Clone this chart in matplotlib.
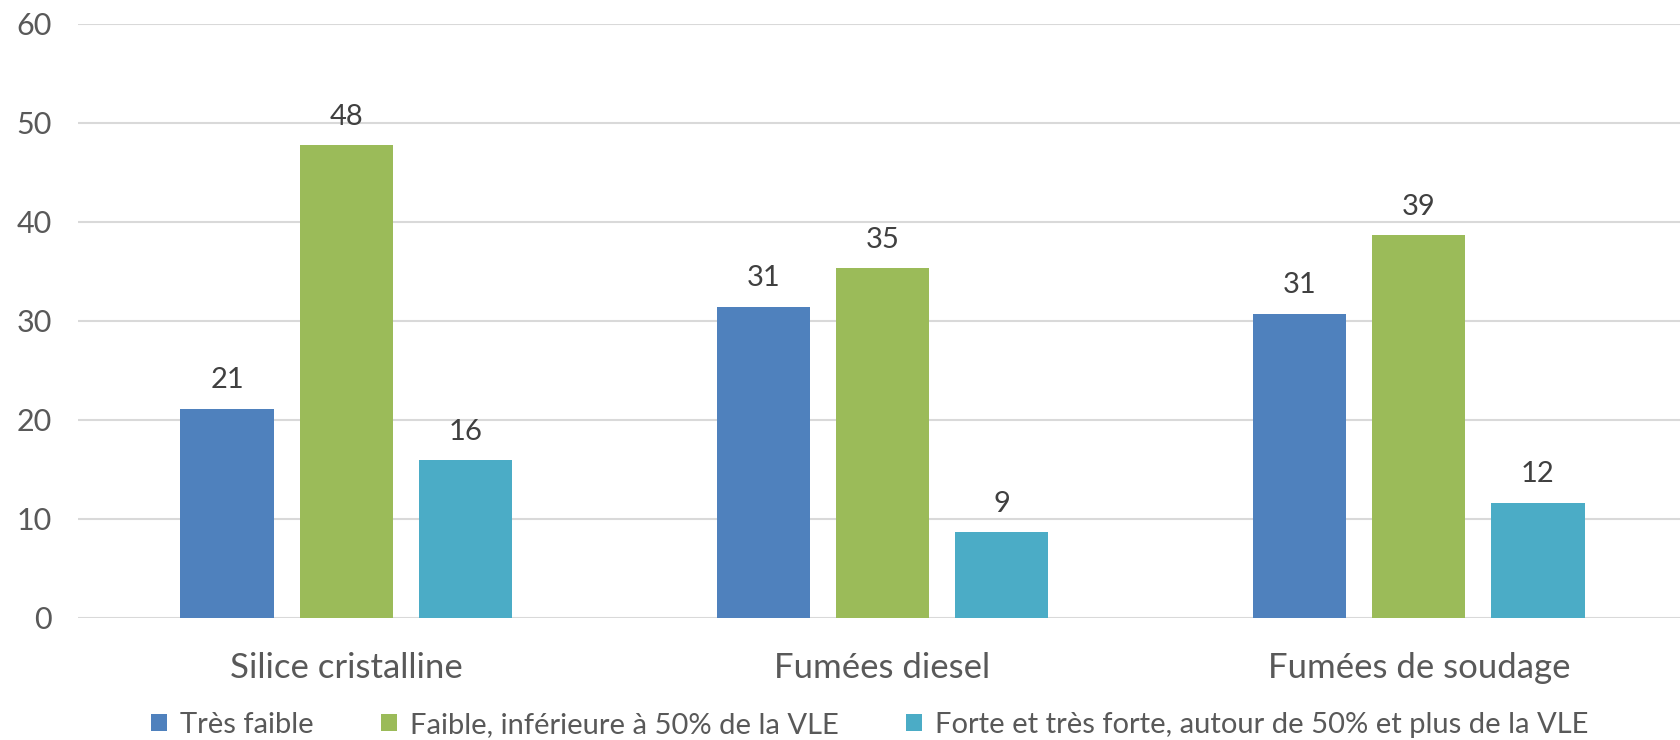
import matplotlib.pyplot as plt
import numpy as np

plt.rcParams['font.family'] = ['Lato', 'DejaVu Sans']

categories = ['Silice cristalline', 'Fumées diesel', 'Fumées de soudage']
series_names = ['Très faible',
                'Faible, inférieure à 50% de la VLE',
                'Forte et très forte, autour de 50% et plus de la VLE']
tres_faible = [21.1, 31.4, 30.7]
faible = [47.7, 35.3, 38.6]
forte = [15.9, 8.6, 11.6]
colors = ['#4F81BD', '#9BBB59', '#4BACC6']

fig = plt.figure(figsize=(16.81, 7.40), dpi=100)
ax = fig.add_axes([78 / 1681, 0.1655, 1609 / 1681, 0.8025])

x = np.arange(len(categories))
width = 0.174
step = 0.222
for i, (vals, name, c) in enumerate(zip([tres_faible, faible, forte], series_names, colors)):
    bars = ax.bar(x + (i - 1) * step, vals, width, color=c, label=name, zorder=3)
    for b, v in zip(bars, vals):
        ax.annotate(f'{round(v)}', (b.get_x() + b.get_width() / 2, v),
                    xytext=(0, 11), textcoords='offset points',
                    ha='center', va='bottom', fontsize=21, color='#404040')

ax.set_xlim(-0.5, 2.5)
ax.set_ylim(0, 60)
ax.set_yticks(range(0, 61, 10))
ax.yaxis.grid(True, color='#D9D9D9', linewidth=1.5, zorder=0)
for s in ax.spines.values():
    s.set_visible(False)
ax.tick_params(axis='both', length=0, colors='#595959', labelsize=22)
ax.tick_params(axis='y', pad=19)
ax.tick_params(axis='x', labelsize=25, pad=25)
ax.set_xticks(x)
ax.set_xticklabels(categories)

leg = ax.legend(loc='center', bbox_to_anchor=((870 - 78) / 1609, -0.181), ncol=3,
                frameon=False, fontsize=21, handlelength=0.55, handleheight=0.55,
                handletextpad=0.45, columnspacing=2.3, labelcolor='#595959')

fig.savefig('out.png', dpi=100)
